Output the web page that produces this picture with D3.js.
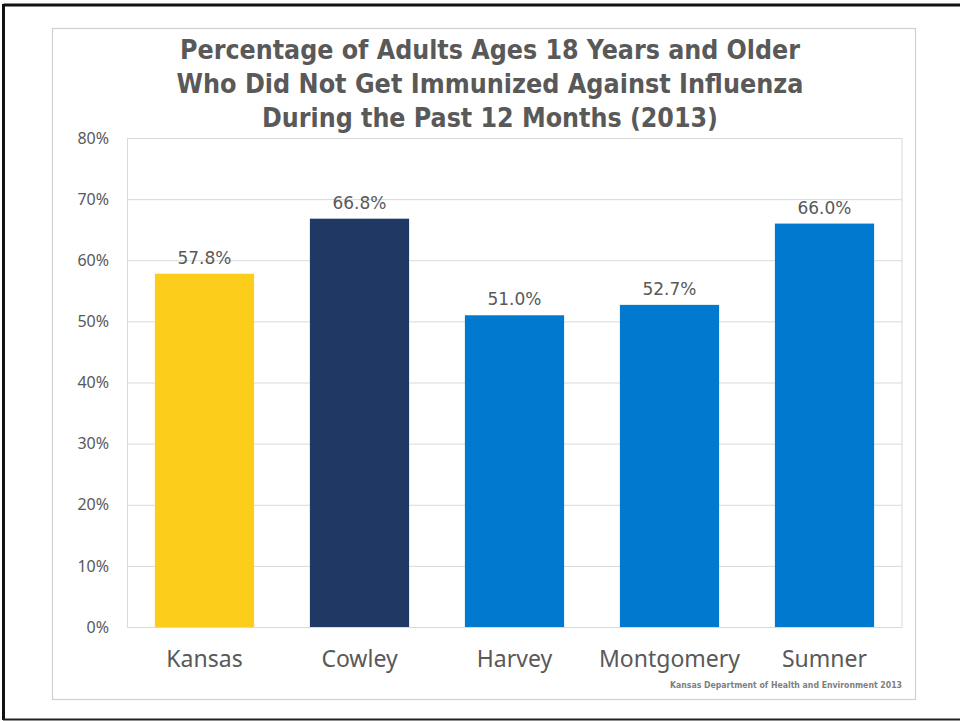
<!DOCTYPE html>
<html><head><meta charset="utf-8">
<script src="https://cdn.jsdelivr.net/npm/d3@7"></script>
<style>body{margin:0;background:#fff}svg{display:block}</style>
</head><body>
<svg id="c" width="960" height="721"></svg>
<script>
const categories = ["Kansas", "Cowley", "Harvey", "Montgomery", "Sumner"];
const values = [57.8, 66.8, 51.0, 52.7, 66.0];
const barColors = ["#FDCD1C", "#1F3864", "#0079CF", "#0079CF", "#0079CF"];
const yTicks = [0, 10, 20, 30, 40, 50, 60, 70, 80];
const titleLines = ["Percentage of Adults Ages 18 Years and Older",
  "Who Did Not Get Immunized Against Influenza",
  "During the Past 12 Months (2013)"];
const sourceText = "Kansas Department of Health and Environment 2013";

const svg = d3.select("#c");
// outer black frame
svg.append("line").attr("x1",3.5).attr("x2",960).attr("y1",5).attr("y2",5).attr("stroke","#111").attr("stroke-width",3);
svg.append("line").attr("x1",3.5).attr("x2",3.5).attr("y1",4).attr("y2",720).attr("stroke","#111").attr("stroke-width",3);
svg.append("line").attr("x1",3).attr("x2",960).attr("y1",719.5).attr("y2",719.5).attr("stroke","#222").attr("stroke-width",2);
// chart box
svg.append("rect").attr("x",52.5).attr("y",28.5).attr("width",863).attr("height",671).attr("fill","#fff").attr("stroke","#d0d0d0").attr("stroke-width",1.2);

const m = {left:127, right:902, top:138, bottom:627};
const x = d3.scaleBand().domain(categories).range([m.left, m.right]).paddingInner(0.36).paddingOuter(0.18);
const y = d3.scaleLinear().domain([0, 80]).range([m.bottom, m.top]);

// grid
const yAxis = d3.axisLeft(y).tickValues(yTicks).tickFormat(d => d + "%").tickSize(-(m.right - m.left)).tickPadding(18);
const ga = svg.append("g").attr("transform", `translate(${m.left},0)`).call(yAxis);
ga.select(".domain").attr("stroke","#d9d9d9");
ga.selectAll(".tick line").attr("stroke","#d9d9d9");
ga.selectAll(".tick text").attr("fill","#595959").attr("font-family","'Noto Sans', sans-serif").attr("font-size",16).attr("dx",0);
svg.append("line").attr("x1",m.right).attr("x2",m.right).attr("y1",m.top).attr("y2",m.bottom).attr("stroke","#d9d9d9");

// bars
svg.append("g").selectAll("rect").data(values).join("rect")
  .attr("x",(d,i)=>x(categories[i])).attr("width",x.bandwidth())
  .attr("y",d=>y(d)).attr("height",d=>y(0)-y(d))
  .attr("fill",(d,i)=>barColors[i]);

// value labels
svg.append("g").selectAll("text").data(values).join("text")
  .attr("x",(d,i)=>x(categories[i])+x.bandwidth()/2).attr("y",d=>y(d)-10)
  .attr("text-anchor","middle").attr("fill","#595959")
  .attr("font-family","'DejaVu Sans', sans-serif").attr("font-size",17)
  .text(d=>d.toFixed(1)+"%");

// x axis
const xAxis = d3.axisBottom(y.copy ? x : x).tickSize(0).tickPadding(24);
const gx = svg.append("g").attr("transform",`translate(0,${m.bottom})`).call(xAxis);
gx.select(".domain").attr("stroke","#d9d9d9");
gx.selectAll(".tick text").attr("fill","#595959").attr("font-family","'Noto Sans', sans-serif").attr("font-size",23);

// title
const tl = [{y:59, w:620},{y:93, w:627},{y:127, w:456}];
svg.append("g").selectAll("text").data(titleLines).join("text")
  .attr("x",490).attr("y",(d,i)=>tl[i].y).attr("text-anchor","middle")
  .attr("textLength",(d,i)=>tl[i].w).attr("lengthAdjust","spacingAndGlyphs")
  .attr("fill","#595959").attr("font-weight","bold")
  .attr("font-family","'DejaVu Sans Condensed','DejaVu Sans', sans-serif").attr("font-size",27)
  .text(d=>d);

// source
svg.append("text").attr("x",670).attr("y",688).attr("textLength",232).attr("lengthAdjust","spacingAndGlyphs")
  .attr("fill","#7f7f7f").attr("font-weight","bold").attr("font-family","'DejaVu Sans Condensed','DejaVu Sans', sans-serif")
  .attr("font-size",9.5).text(sourceText);
</script>
</body></html>
